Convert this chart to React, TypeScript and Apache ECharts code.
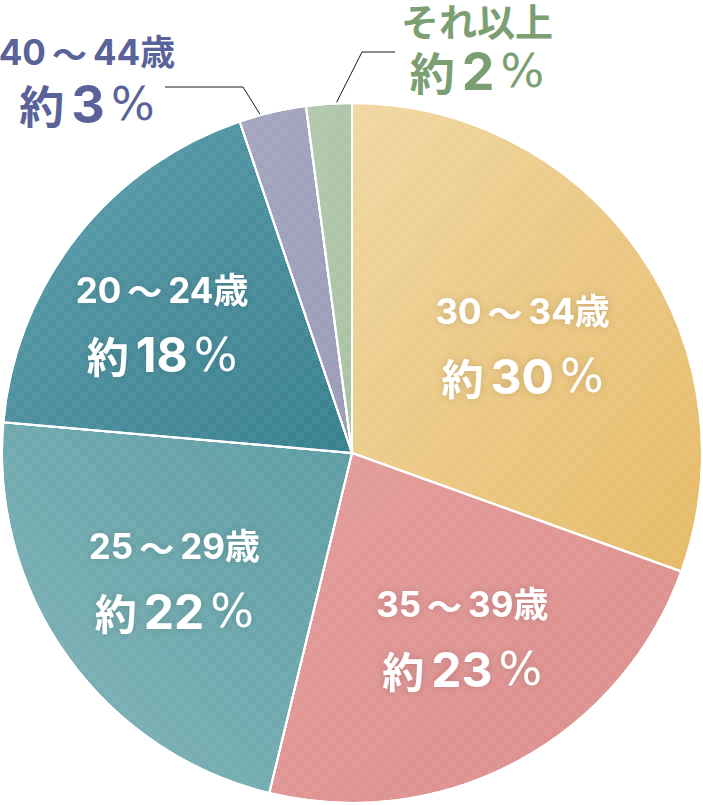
import React, { useRef, useEffect } from "react";
import * as echarts from "echarts";

// 年齢層の構成比（時計回り、12時の位置から）
const AGE_GROUPS = ["30～34歳", "35～39歳", "25～29歳", "20～24歳", "40～44歳", "それ以上"];
const SHARES = [30.5, 23.3, 22.6, 18.4, 3.1, 2.1];
const SHARE_LABELS = ["30", "23", "22", "18", "3", "2"];

const GRADIENTS: [string, string][] = [
  ["#F0D7A2", "#E6BA66"],
  ["#E39D9A", "#DC8D8C"],
  ["#82B6BA", "#5C9CA3"],
  ["#5E9FAD", "#39808F"],
  ["#A4A6C0", "#9A9CB8"],
  ["#B3C9AD", "#A9C1A3"],
];
const GRADIENT_DIR: number[][] = [
  [0, 0, 1, 1],
  [0, 0, 1, 1],
  [0, 1, 1, 0],
  [0, 0, 1, 1],
  [0, 0, 1, 1],
  [0, 0, 1, 1],
];
const OUTER_COLORS: Record<number, string> = { 4: "#59639A", 5: "#7B9E72" };

const CX = 352;
const CY = 453;
const R = 350;
const CJK = '"Noto Sans CJK JP", sans-serif';
const NUM = 'Inter, "Noto Sans CJK JP", sans-serif';
const PCT = '"DejaVu Sans", sans-serif';

// 内側ラベルの微調整 (dx, dy)
const INNER_SHIFT = [
  [25, -7],
  [26, 27],
  [-33, 22],
  [-50, -21],
];
// 外側ラベル: [スライス内位置, 半径比, 折れ点x, 折れ点y, 終点x, ラベルx, ラベル上端y]
const OUTER_LAYOUT: Record<number, number[]> = {
  4: [0.71, 0.8, 243, 87, 165, 87, 35],
  5: [0.33, 0.93, 362, 52, 395, 477, 2],
};

const shadow = { textShadowColor: "rgba(0,0,0,0.16)", textShadowBlur: 8 };

const richFor = (color: string, outer: boolean) => {
  const base = { color, fontWeight: "bold", ...(outer ? {} : shadow) };
  const l1 = outer ? 34 : 65;
  const l2 = outer ? 70 : 65;
  return {
    a: { ...base, fontFamily: NUM, fontSize: 35, lineHeight: l1 },
    k: { ...base, fontFamily: CJK, fontSize: 38, lineHeight: l1 },
    t: { ...base, fontFamily: CJK, fontSize: 35, lineHeight: l1, padding: [0, 6] },
    p: { ...base, fontFamily: CJK, fontSize: outer ? 45 : 42, lineHeight: l2, padding: [0, 7, 0, 0] },
    n: { ...base, fontFamily: NUM, fontSize: outer ? 52 : 48, lineHeight: l2 },
    s: {
      ...base,
      fontFamily: PCT,
      fontWeight: "normal",
      fontSize: 46,
      lineHeight: l2,
      padding: [0, 0, 0, 6],
    },
  };
};

const App: React.FC = () => {
  const ref = useRef<HTMLDivElement>(null);

  useEffect(() => {
    if (!ref.current) return;
    const chart = echarts.init(ref.current, null, { renderer: "svg" });
    const total = SHARES.reduce((s, v) => s + v, 0);
    const starts: number[] = [];
    SHARES.reduce((acc, v) => {
      starts.push(acc);
      return acc + v;
    }, 0);

    const data = AGE_GROUPS.map((name, i) => {
      const [x, y, x2, y2] = GRADIENT_DIR[i];
      const outer = i >= 4;
      const color = outer ? OUTER_COLORS[i] : "#fff";
      return {
        name,
        value: SHARES[i],
        itemStyle: {
          color: new echarts.graphic.LinearGradient(x, y, x2, y2, [
            { offset: 0, color: GRADIENTS[i][0] },
            { offset: 1, color: GRADIENTS[i][1] },
          ]),
        },
        label: {
          show: true,
          position: outer ? "outside" : "inside",
          color,
          rich: richFor(color, outer),
        },
        labelLine: outer
          ? { show: true, lineStyle: { color: "#1a1a1a", width: 1 } }
          : { show: false },
      };
    });

    const firstLine = (name: string) => {
      const parts = name.split("～");
      if (parts.length === 2) return `{a|${parts[0]}}{t|～}{a|${parts[1]}}`;
      return `{k|${name}}`;
    };

    chart.setOption({
      animation: false,
      series: [
        {
          type: "pie",
          center: [CX, CY],
          radius: R,
          startAngle: 90,
          clockwise: true,
          avoidLabelOverlap: false,
          itemStyle: {
            borderColor: "#fff",
            borderWidth: 2,
            decal: {
              symbol: "rect",
              symbolSize: 1,
              color: "rgba(255,255,255,0.045)",
              dashArrayX: [[8, 8], [0, 8, 8, 0]],
              dashArrayY: [8, 0],
            },
          },
          emphasis: { disabled: true },
          label: {
            formatter: (p: any) =>
              `${firstLine(p.name)}\n{p|約}{n|${SHARE_LABELS[p.dataIndex]}}{s|%}`,
          },
          labelLayout: (params: any) => {
            const i = params.dataIndex;
            if (i < 4) return { dx: INNER_SHIFT[i][0], dy: INNER_SHIFT[i][1] };
            const [f, rf, ex, ey, endX, lx, ly] = OUTER_LAYOUT[i];
            const frac = (starts[i] + SHARES[i] * f) / total;
            const ang = frac * Math.PI * 2;
            const sx = CX + R * rf * Math.sin(ang);
            const sy = CY - R * rf * Math.cos(ang);
            return {
              x: lx,
              y: ly,
              align: "center",
              verticalAlign: "top",
              labelLinePoints: [
                [sx, sy],
                [ex, ey],
                [endX, ey],
              ],
            };
          },
          data,
        },
      ],
    });

    return () => chart.dispose();
  }, []);

  return (
    <div
      ref={ref}
      style={{ position: "absolute", left: 0, top: 0, width: 703, height: 805 }}
    />
  );
};

export default App;
